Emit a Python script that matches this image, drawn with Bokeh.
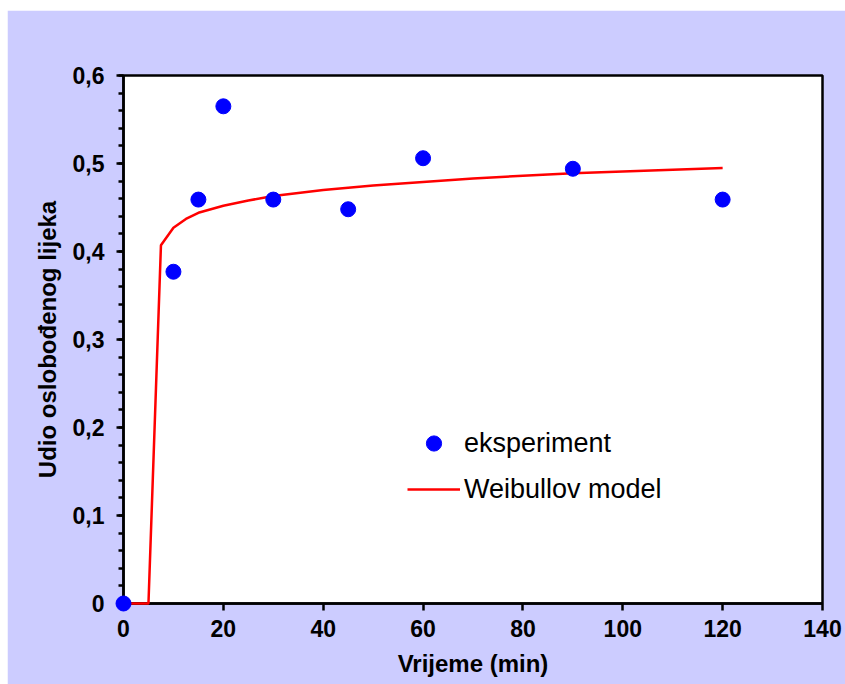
from bokeh.plotting import figure
from bokeh.models import (ColumnDataSource, Legend, LegendItem, FixedTicker,
                          CustomJSTickFormatter, Range1d)
from bokeh.embed import file_html
from bokeh.resources import INLINE

# Experimental data
time_exp = [0, 10, 15, 20, 30, 45, 60, 90, 120]
frac_exp = [0.0, 0.377, 0.459, 0.565, 0.459, 0.448, 0.506, 0.494, 0.459]

# Weibull model curve
time_model = [0, 5, 7.5, 10, 12.5, 15, 20, 25, 30, 40, 50, 60, 70, 80, 90, 100, 110, 120]
frac_model = [0.0, 0.0, 0.407, 0.427, 0.437, 0.444, 0.452, 0.458, 0.463, 0.470,
              0.475, 0.479, 0.483, 0.486, 0.489, 0.491, 0.493, 0.495]

x_ticks = [0, 20, 40, 60, 80, 100, 120, 140]
y_ticks = [0, 0.1, 0.2, 0.3, 0.4, 0.5, 0.6]
y_minor = [i * 0.02 for i in range(31)]

x_title = "Vrijeme (min)"
y_title = "Udio oslobođenog lijeka"
labels = ["eksperiment", "Weibullov model"]

BG = "#CCCCFF"
FONT = "Liberation Sans"

p = figure(width=838, height=674, output_backend="svg", toolbar_location=None,
           x_range=Range1d(0, 140), y_range=Range1d(0, 0.6),
           min_border_left=116, min_border_right=23,
           min_border_top=65, min_border_bottom=81)
p.margin = (10, 0, 0, 7)
p.border_fill_color = BG
p.background_fill_color = "white"
p.outline_line_color = "black"
p.outline_line_width = 2.5
p.grid.visible = False

src_m = ColumnDataSource(dict(x=time_model, y=frac_model))
src_e = ColumnDataSource(dict(x=time_exp, y=frac_exp))
r_line = p.line("x", "y", source=src_m, line_color="#FF0000", line_width=2.5,
                level="overlay")
r_pts = p.scatter("x", "y", source=src_e, size=15, fill_color="#0000FF",
                  line_color="#0000FF", marker="circle", level="overlay")

xa = p.xaxis[0]
xa.ticker = FixedTicker(ticks=x_ticks)
xa.axis_label = x_title
ya = p.yaxis[0]
ya.ticker = FixedTicker(ticks=y_ticks, minor_ticks=y_minor)
ya.axis_label = y_title
ya.formatter = CustomJSTickFormatter(
    code="return tick == 0 ? '0' : tick.toFixed(1).replace('.', ',');")

for ax in (xa, ya):
    ax.axis_line_width = 2.5
    ax.axis_line_color = "black"
    ax.major_tick_line_width = 2.5
    ax.major_tick_line_color = "black"
    ax.major_tick_out = 7
    ax.major_tick_in = 0
    ax.major_label_text_font = FONT
    ax.major_label_text_font_style = "bold"
    ax.major_label_text_font_size = "23px"
    ax.major_label_text_color = "black"
    ax.axis_label_text_font = FONT
    ax.axis_label_text_font_style = "bold"
    ax.axis_label_text_font_size = "24px"
    ax.axis_label_text_color = "black"

xa.minor_tick_line_color = None
xa.major_label_standoff = 9
xa.axis_label_standoff = 10
ya.minor_tick_line_width = 2.5
ya.minor_tick_line_color = "black"
ya.minor_tick_out = 5
ya.minor_tick_in = 0
ya.major_label_standoff = 12
ya.axis_label_standoff = 9

legend = Legend(items=[LegendItem(label=labels[0], renderers=[r_pts]),
                       LegendItem(label=labels[1], renderers=[r_line])],
                location=(284, 95))
legend.border_line_color = None
legend.background_fill_alpha = 0
legend.padding = 0
legend.margin = 0
legend.spacing = 8
legend.glyph_width = 53
legend.glyph_height = 38
legend.label_height = 38
legend.label_standoff = 4
legend.label_text_font = FONT
legend.label_text_font_size = "27px"
legend.label_text_color = "black"
p.add_layout(legend, "center")

open("out.html", "w").write(file_html(p, INLINE))
